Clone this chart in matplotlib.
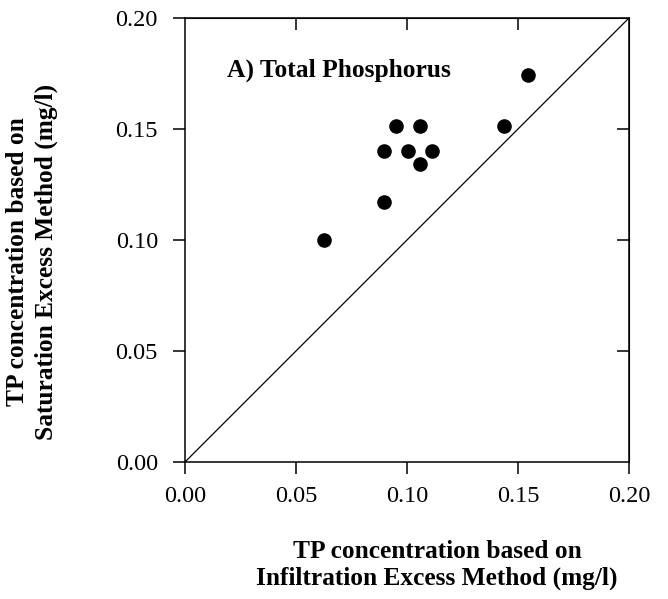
import matplotlib
matplotlib.use("Agg")
import matplotlib.pyplot as plt

# Data (mg/l)
infiltration_tp = [0.0626, 0.0896, 0.0896, 0.0950, 0.1005, 0.1059, 0.1059, 0.1113, 0.1437, 0.1545]
saturation_tp = [0.1000, 0.1171, 0.1401, 0.1514, 0.1401, 0.1342, 0.1514, 0.1401, 0.1514, 0.1743]
ticks = [0.00, 0.05, 0.10, 0.15, 0.20]
tick_labels = ["0.00", "0.05", "0.10", "0.15", "0.20"]
one_to_one = [0.0, 0.20]

plt.rcParams['font.family'] = ['Liberation Serif', 'DejaVu Serif']

fig = plt.figure(figsize=(6.68, 5.99), dpi=100)
ax = fig.add_axes([185/668, 1 - 462/599, 444/668, 444/599])

ax.plot(one_to_one, one_to_one, color='black', lw=0.9)
ax.scatter(infiltration_tp, saturation_tp, s=90, color='black', zorder=3)

ax.set_xlim(0, 0.20)
ax.set_ylim(0, 0.20)
ax.set_xticks(ticks)
ax.set_xticklabels(tick_labels)
ax.set_yticks(ticks)
ax.set_yticklabels(tick_labels)

for sp in ax.spines.values():
    sp.set_linewidth(1.1)

ax.tick_params(axis='both', which='major', direction='out', length=8.5, width=1.1,
               labelsize=17.5, top=False, right=False)
ax.tick_params(axis='x', pad=9)
ax.tick_params(axis='y', pad=11)

# inward ticks on top and right
secx = ax.secondary_xaxis('top')
secx.set_xticks(ticks[1:-1])
secx.tick_params(direction='in', length=8.5, width=1.1, labeltop=False)
secx.set_xticklabels([])
secy = ax.secondary_yaxis('right')
secy.set_yticks(ticks[1:-1])
secy.tick_params(direction='in', length=8.5, width=1.1, labelright=False)
secy.set_yticklabels([])

ax.text(0.0189, 0.1734, "A) Total Phosphorus", fontsize=18.4,
        fontweight='bold', ha='left', va='baseline')

fig.text(437/668, 1 - 558/599, "TP concentration based on", ha='center', va='baseline',
         fontsize=18.3, fontweight='bold')
fig.text(437/668, 1 - 585/599, "Infiltration Excess Method (mg/l)", ha='center', va='baseline',
         fontsize=18.3, fontweight='bold')

fig.text(18/668, 1 - 262/599, "TP concentration based on", ha='center', va='center',
         rotation=90, fontsize=18.3, fontweight='bold', rotation_mode='anchor')
fig.text(46/668, 1 - 262/599, "Saturation Excess Method (mg/l)", ha='center', va='center',
         rotation=90, fontsize=18.3, fontweight='bold', rotation_mode='anchor')

fig.savefig("out.png", dpi=100)
